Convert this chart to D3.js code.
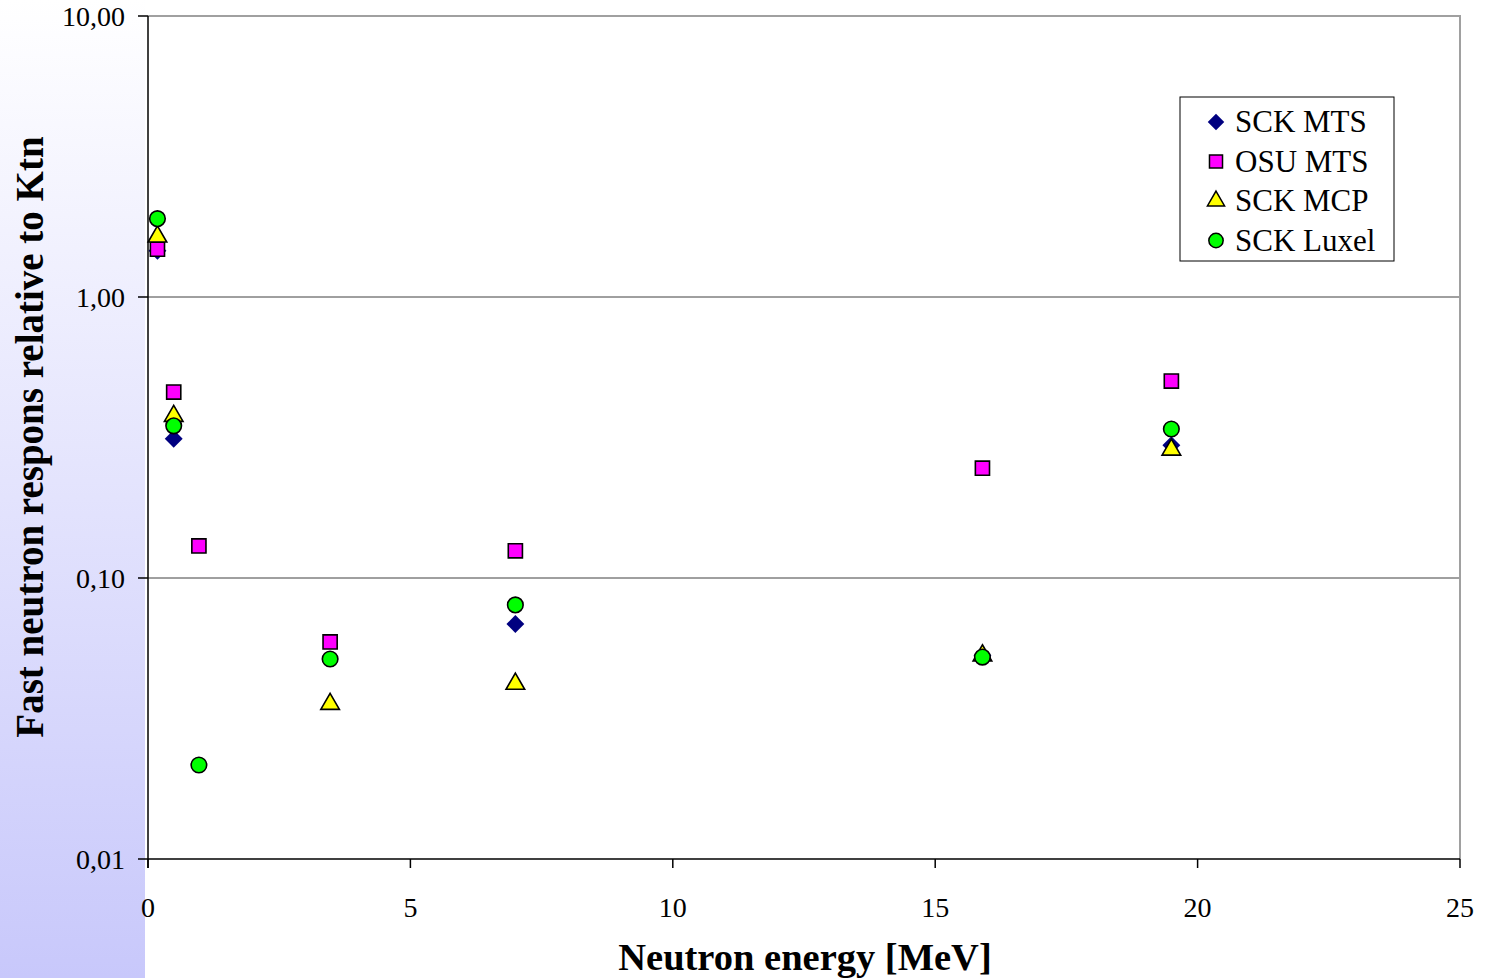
<html>
<head>
  <title> </title>
  <script src="https://d3js.org/d3.v7.min.js"></script>
  <style>
  body { margin: 0; background: white; }
  text { font-family: "Liberation Serif", "Times New Roman", serif; fill: black; }
  .grid { stroke: #404040; stroke-width: 1px; }
  .frame { stroke: #a0a0a0; stroke-width: 2px; fill: none; }
  .axis { stroke: black; stroke-width: 1.5px; }
  </style>
</head>
<body>
  <svg id="chart" width="1489" height="978"></svg>
  <script>
    // series data (energy in MeV, response relative to Ktn)
    const seriesNames = ["SCK MTS", "OSU MTS", "SCK MCP", "SCK Luxel"];
    const sckMtsX = [0.18, 0.49, 7.0, 15.9, 19.5];
    const sckMtsY = [1.46, 0.313, 0.0686, 0.053, 0.297];
    const osuMtsX = [0.18, 0.49, 0.97, 3.47, 7.0, 15.9, 19.5];
    const osuMtsY = [1.48, 0.459, 0.130, 0.0592, 0.125, 0.246, 0.502];
    const sckMcpX = [0.18, 0.49, 3.47, 7.0, 15.9, 19.5];
    const sckMcpY = [1.64, 0.377, 0.0356, 0.042, 0.053, 0.286];
    const sckLuxelX = [0.18, 0.49, 0.97, 3.47, 7.0, 15.9, 19.5];
    const sckLuxelY = [1.90, 0.348, 0.0216, 0.0515, 0.0802, 0.0523, 0.339];

    const xTicks = [0, 5, 10, 15, 20, 25];
    const yTicks = [0.01, 0.1, 1, 10];
    const yTickLabels = ["0,01", "0,10", "1,00", "10,00"];

    const svg = d3.select("#chart");
    const margin = {top: 16, left: 148, right: 29, bottom: 119};
    const W = 1489, H = 978;

    // left gradient strip
    const defs = svg.append("defs");
    const grad = defs.append("linearGradient").attr("id", "strip")
      .attr("x1", 0).attr("y1", 0).attr("x2", 0).attr("y2", 1);
    grad.append("stop").attr("offset", "0%").attr("stop-color", "#ffffff");
    grad.append("stop").attr("offset", "100%").attr("stop-color", "#c8c8fb");
    svg.append("rect").attr("x", 0).attr("y", 0).attr("width", 145).attr("height", H)
      .attr("fill", "url(#strip)");

    const x = d3.scaleLinear().domain([0, 25]).range([margin.left, W - margin.right]);
    const y = d3.scaleLog().domain([0.01, 10]).range([H - margin.bottom, margin.top]);

    // gridlines
    svg.selectAll(".grid").data([0.1, 1]).enter().append("line")
      .attr("class", "grid")
      .attr("x1", x(0)).attr("x2", x(25))
      .attr("y1", d => y(d)).attr("y2", d => y(d));

    // top / right frame
    svg.append("path").attr("class", "frame")
      .attr("d", "M" + x(0) + "," + y(10) + "H" + x(25) + "V" + y(0.01));

    // axes
    svg.append("line").attr("class", "axis")
      .attr("x1", x(0)).attr("x2", x(25)).attr("y1", y(0.01)).attr("y2", y(0.01));
    svg.append("line").attr("class", "axis")
      .attr("x1", x(0)).attr("x2", x(0)).attr("y1", y(10)).attr("y2", y(0.01) + 9);

    svg.selectAll(".ytick").data(yTicks).enter().append("line")
      .attr("class", "axis")
      .attr("x1", x(0) - 10).attr("x2", x(0))
      .attr("y1", d => y(d)).attr("y2", d => y(d));
    svg.selectAll(".ylab").data(yTicks).enter().append("text")
      .attr("x", x(0) - 23).attr("y", d => y(d) + 10)
      .attr("text-anchor", "end").attr("font-size", 28)
      .text((d, i) => yTickLabels[i]);

    svg.selectAll(".xtick").data(xTicks).enter().append("line")
      .attr("class", "axis")
      .attr("x1", d => x(d)).attr("x2", d => x(d))
      .attr("y1", y(0.01)).attr("y2", y(0.01) + 9);
    svg.selectAll(".xlab").data(xTicks).enter().append("text")
      .attr("x", d => x(d)).attr("y", y(0.01) + 58)
      .attr("text-anchor", "middle").attr("font-size", 28)
      .text(d => d);

    // axis titles
    svg.append("text")
      .attr("x", 805).attr("y", 970)
      .attr("text-anchor", "middle").attr("font-size", 38.5).attr("font-weight", "bold")
      .text("Neutron energy [MeV]");
    svg.append("text")
      .attr("transform", "translate(43,437) rotate(-90)")
      .attr("text-anchor", "middle").attr("font-size", 39).attr("font-weight", "bold")
      .text("Fast neutron respons relative to Ktn");

    // markers
    const styles = [
      {sym: d3.symbolSquare, size: 160, fill: "#000080", stroke: "none", rot: 45},
      {sym: d3.symbolSquare, size: 200, fill: "#ff00ff", stroke: "black", rot: 0},
      {sym: d3.symbolTriangle, size: 150, fill: "#ffff00", stroke: "black", rot: 0},
      {sym: d3.symbolCircle, size: 190, fill: "#00ff00", stroke: "black", rot: 0}
    ];
    const seriesX = [sckMtsX, osuMtsX, sckMcpX, sckLuxelX];
    const seriesY = [sckMtsY, osuMtsY, sckMcpY, sckLuxelY];

    seriesX.forEach((xs, s) => {
      const st = styles[s];
      const pts = xs.map((v, i) => [v, seriesY[s][i]]);
      svg.append("g").selectAll("path").data(pts).enter().append("path")
        .attr("d", d3.symbol().type(st.sym).size(st.size))
        .attr("transform", d => "translate(" + x(d[0]) + "," + y(d[1]) + ") rotate(" + st.rot + ")")
        .attr("fill", st.fill)
        .attr("stroke", st.stroke)
        .attr("stroke-width", 1.6);
    });

    // legend
    const lg = svg.append("g").attr("transform", "translate(1180,97)");
    lg.append("rect").attr("width", 214).attr("height", 164)
      .attr("fill", "white").attr("stroke", "black").attr("stroke-width", 1);
    seriesNames.forEach((name, i) => {
      const st = styles[i];
      const cy = 25 + i * 39.5;
      lg.append("path")
        .attr("d", d3.symbol().type(st.sym).size(st.size * 0.85))
        .attr("transform", "translate(36," + cy + ") rotate(" + st.rot + ")")
        .attr("fill", st.fill).attr("stroke", st.stroke).attr("stroke-width", 1.5);
      lg.append("text").attr("x", 55).attr("y", cy + 10)
        .attr("font-size", 31).text(name);
    });
  </script>
</body>
</html>
